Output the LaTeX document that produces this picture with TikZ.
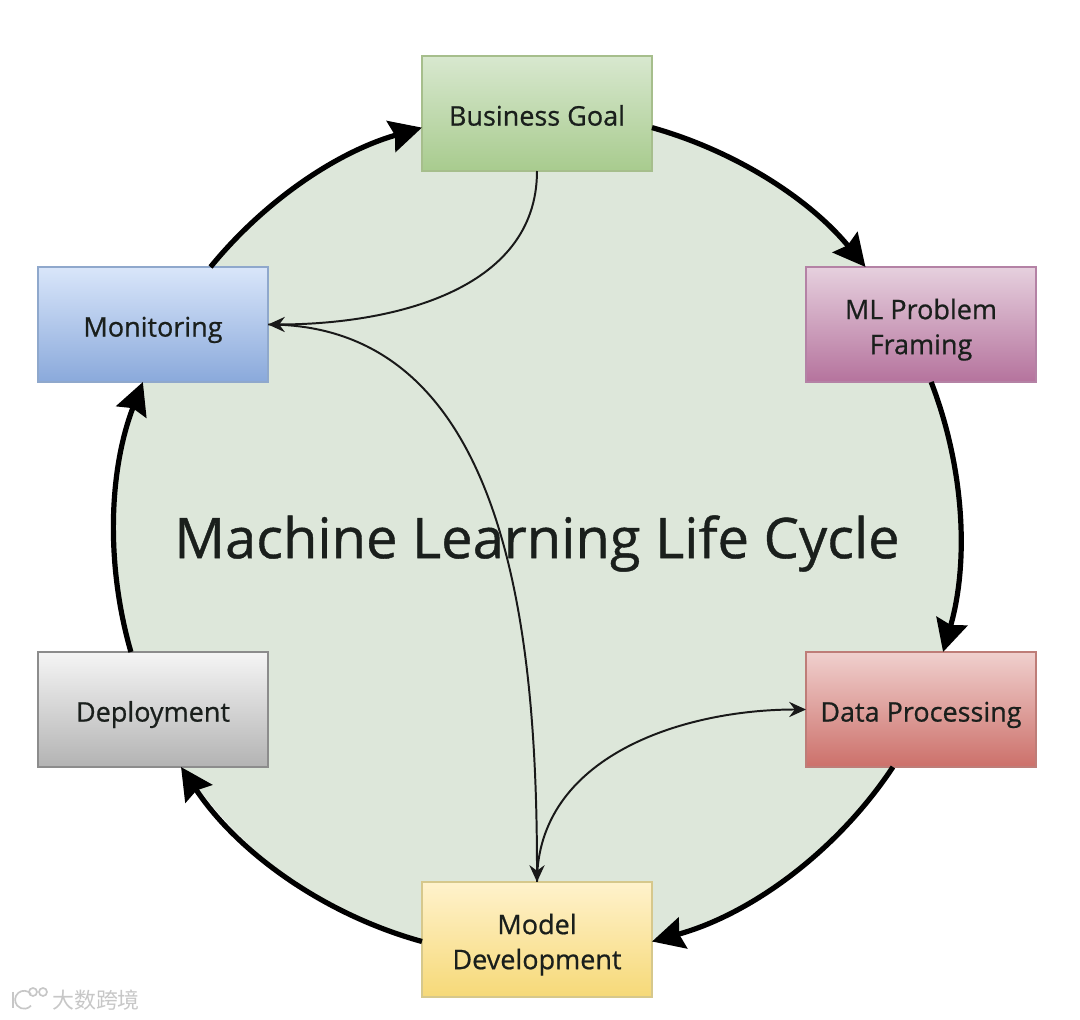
\documentclass[tikz,border=0pt]{standalone}
\usepackage{fontspec}
\usepackage{xcolor}
\usetikzlibrary{arrows.meta}
\setmainfont{Open Sans}[FakeBold=0.7]
\newfontfamily\cjkfont{Noto Sans CJK SC}

\definecolor{circlefill}{HTML}{DDE7DA}
\definecolor{inkcolor}{HTML}{1A1F1C}

\tikzset{
    stagebox/.style n args={3}{draw=#3, top color=#1, bottom color=#2, line width=1pt,
        minimum width=5.75cm, minimum height=2.875cm, align=center, outer sep=0pt, inner sep=0pt,
        text=inkcolor, text depth=0pt, text height=17.2pt, font=\fontsize{19.2}{24.9}\selectfont},
    twolines/.style={text depth=0pt, text height=42.2pt},
    cyclearrow/.style={-{Stealth[length=0.8cm, width=0.8cm, inset=0.1cm]}, line width=3.7pt, black, looseness=0.88},
    linkarrow/.style={-{Stealth[length=0.42cm, width=0.38cm, inset=0.14cm]}, line width=1.4pt, black!90},
    logostroke/.style={draw=black!22, line width=1.2pt},
}

\definecolor{goaltop}{HTML}{D8E8CF}
\definecolor{goalbot}{HTML}{A8CB8E}
\definecolor{goalline}{HTML}{A6BE8C}
\definecolor{frametop}{HTML}{E6D0DE}
\definecolor{framebot}{HTML}{B5739D}
\definecolor{frameline}{HTML}{B482A5}
\definecolor{datatop}{HTML}{F0D0CE}
\definecolor{databot}{HTML}{CC706A}
\definecolor{dataline}{HTML}{BE7D78}
\definecolor{modeltop}{HTML}{FFF2CC}
\definecolor{modelbot}{HTML}{F6D978}
\definecolor{modelline}{HTML}{D6C88C}
\definecolor{deploytop}{HTML}{F5F5F5}
\definecolor{deploybot}{HTML}{B3B3B3}
\definecolor{deployline}{HTML}{8C8C8C}
\definecolor{monitortop}{HTML}{D9E6FA}
\definecolor{monitorbot}{HTML}{8AA9DB}
\definecolor{monitorline}{HTML}{8FA8CC}

\begin{document}
\begin{tikzpicture}[x=0.025cm, y=0.025cm]
    \useasboundingbox (0, 0) rectangle (1080, 1020);

    \fill[circlefill] (537, 485) circle [radius=423];

    \node[stagebox={goaltop}{goalbot}{goalline}] (goal) at (537, 906.5) {Business Goal};
    \node[stagebox={frametop}{framebot}{frameline}, twolines] (framing) at (921, 695.5) {ML Problem\\Framing};
    \node[stagebox={datatop}{databot}{dataline}] (processing) at (921, 310.5) {Data Processing};
    \node[stagebox={modeltop}{modelbot}{modelline}, twolines] (development) at (537, 80.5) {Model\\Development};
    \node[stagebox={deploytop}{deploybot}{deployline}] (deployment) at (153, 310.5) {Deployment};
    \node[stagebox={monitortop}{monitorbot}{monitorline}] (monitoring) at (153, 695.5) {Monitoring};

    \node[text=inkcolor, font=\fontsize{39.9}{44}\selectfont] (title) at (537, 476.5) {Machine Learning Life Cycle};
    \node[text=black!22, font=\cjkfont\fontsize{15.6}{18}\selectfont] (mark) at (96, 20) {大数跨境};

    % small logo left of the mark
    \draw[logostroke] (13, 28) -- (13, 12);
    \draw[logostroke] (31, 26) arc [start angle=40, end angle=320, radius=9];
    \draw[logostroke] (33, 28) circle [radius=4];
    \draw[logostroke] (43, 28) circle [radius=4];

    \draw[cyclearrow] (goal.-7) to[bend left=17.4] (framing.134.2);
    \draw[cyclearrow] (framing.-80) to[bend left=18.6] (processing.69);
    \draw[cyclearrow] (processing.-116.8) to[bend left=20.5] (development.-1.2);
    \draw[cyclearrow] (development.181.2) to[bend left=20.5] (deployment.-64.8);
    \draw[cyclearrow] (deployment.111) to[bend left=18.6] (monitoring.260);
    \draw[cyclearrow] (monitoring.45.2) to[bend left=17.4] (goal.187);

    \draw[linkarrow] (goal.south) to[out=-90, in=0] (monitoring.east);
    \draw[linkarrow] (monitoring.east) to[out=0, in=90] (development.north);
    \draw[linkarrow] (development.north) to[out=90, in=180] (processing.west);
\end{tikzpicture}
\end{document}
